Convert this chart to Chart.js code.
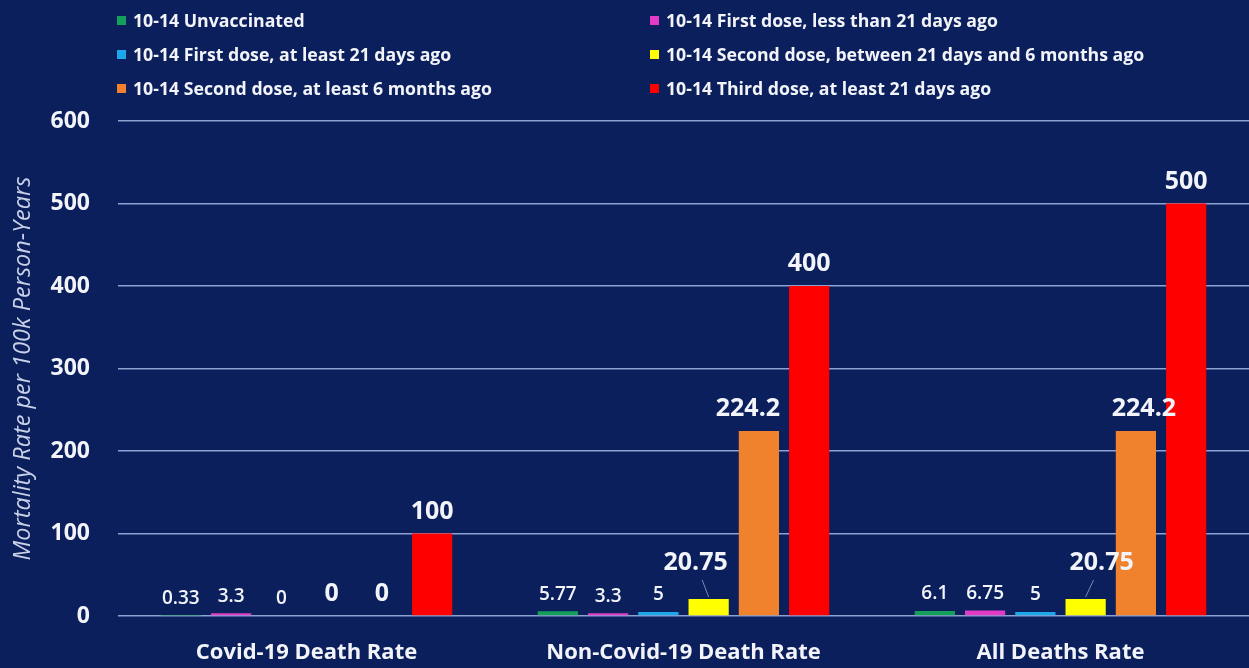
<!DOCTYPE html>
<html>
<head>
<meta charset="utf-8">
<script src="https://cdn.jsdelivr.net/npm/chart.js@4.4.1/dist/chart.umd.min.js"></script>
<style>
  html, body { margin: 0; padding: 0; background: #0a1f5c; }
  .wrap { position: relative; width: 1249px; height: 668px; }
  .legend { position: absolute; left: 117px; top: 9px; display: grid; grid-template-columns: 533px 500px; row-gap: 12px; font-family: "Open Sans", sans-serif; font-weight: 700; font-size: 17.7px; color: #f2f4fa; }
  .legend div { display: flex; align-items: center; height: 22px; white-space: nowrap; }
  .legend span { display: inline-block; width: 9px; height: 9px; margin-right: 7px; }
</style>
</head>
<body>
<div class="wrap">
  <canvas id="chart" width="1249" height="668"></canvas>
  <div class="legend" id="legend"></div>
</div>
<script>
const categories = ['Covid-19 Death Rate', 'Non-Covid-19 Death Rate', 'All Deaths Rate'];
const seriesNames = [
  '10-14 Unvaccinated',
  '10-14 First dose, less than 21 days ago',
  '10-14 First dose, at least 21 days ago',
  '10-14 Second dose, between 21 days and 6 months ago',
  '10-14 Second dose, at least 6 months ago',
  '10-14 Third dose, at least 21 days ago'
];
const unvaccinated = [0.33, 5.77, 6.1];
const firstRecent = [3.3, 3.3, 6.75];
const firstOld = [0, 5, 5];
const secondRecent = [0, 20.75, 20.75];
const secondOld = [0, 224.2, 224.2];
const thirdDose = [100, 400, 500];
const yTicks = [0, 100, 200, 300, 400, 500, 600];

const colors = ['#14a05a', '#e23cc6', '#1ea6ea', '#ffff00', '#f0822e', '#ff0000'];
const seriesValues = [unvaccinated, firstRecent, firstOld, secondRecent, secondOld, thirdDose];

// legend laid out in two columns, row-major like the original
const legendEl = document.getElementById('legend');
seriesNames.forEach((name, i) => {
  const d = document.createElement('div');
  d.innerHTML = '<span style="background:' + colors[i] + '"></span>' + name;
  legendEl.appendChild(d);
});

// labels nudged sideways in the original (yellow and orange bars)
const labelShift = {
  3: [0, -13, 16],
  4: [0, -11, 8]
};

const valueLabels = {
  id: 'valueLabels',
  afterDatasetsDraw(chart) {
    const ctx = chart.ctx;
    ctx.save();
    ctx.textAlign = 'center';
    ctx.textBaseline = 'middle';
    ctx.fillStyle = '#f2f4fa';
    chart.data.datasets.forEach((ds, di) => {
      const meta = chart.getDatasetMeta(di);
      meta.data.forEach((bar, i) => {
        const v = ds.data[i];
        const big = di >= 3;
        ctx.font = big ? 'bold 25px "Open Sans"' : '600 19px "Open Sans"';
        let off = big ? 22 : 17;
        const dx = labelShift[di] ? labelShift[di][i] : 0;
        if (di === 3 && v > 0) {
          off = 36;
          ctx.strokeStyle = 'rgba(200,210,235,0.6)';
          ctx.lineWidth = 1;
          ctx.beginPath();
          ctx.moveTo(bar.x + dx * 0.5, bar.y - 19);
          ctx.lineTo(bar.x, bar.y - 2);
          ctx.stroke();
        }
        ctx.fillText(String(v), bar.x + dx, bar.y - off);
      });
    });
    ctx.restore();
  }
};

new Chart(document.getElementById('chart'), {
  type: 'bar',
  data: {
    labels: categories,
    datasets: seriesNames.map((name, i) => ({
      label: name,
      data: seriesValues[i],
      backgroundColor: colors[i],
      borderWidth: 0,
      categoryPercentage: 0.8,
      barPercentage: 0.8
    }))
  },
  options: {
    responsive: false,
    animation: false,
    layout: { padding: { top: 121, left: 0, right: 0, bottom: 0 } },
    plugins: {
      legend: { display: false },
      tooltip: { enabled: false }
    },
    scales: {
      x: {
        grid: { display: false },
        border: { display: false },
        ticks: { color: '#f2f4fa', font: { family: 'Open Sans', size: 22, weight: 'bold' }, padding: 16 },
        afterFit: s => { s.height = 52; }
      },
      y: {
        min: 0,
        max: 600,
        afterBuildTicks: s => { s.ticks = yTicks.map(v => ({ value: v })); },
        grid: { color: '#8ea2d2', lineWidth: 1.5, drawTicks: false },
        border: { display: false },
        ticks: { color: '#f2f4fa', font: { family: 'Open Sans', size: 23, weight: 'bold' }, padding: 28 },
        title: {
          display: true,
          text: 'Mortality Rate per 100k Person-Years',
          color: '#c9d1e8',
          font: { family: 'Open Sans', size: 23.5, style: 'italic' },
          padding: { top: 9, bottom: 0 }
        },
        afterFit: s => { s.width = 118; }
      }
    }
  },
  plugins: [valueLabels]
});
</script>
</body>
</html>
